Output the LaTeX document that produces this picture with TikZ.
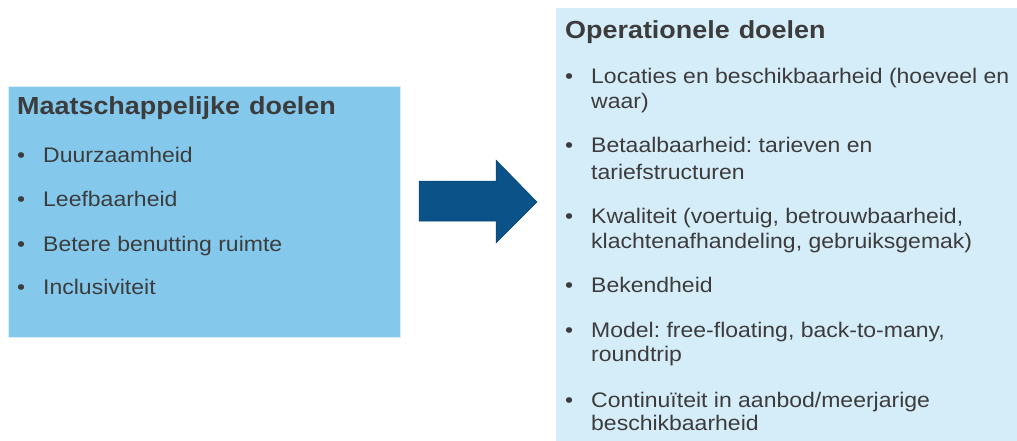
\documentclass[tikz,border=0pt]{standalone}
\usepackage{fontspec}
\setmainfont[FakeStretch=1.09]{Liberation Sans}
\frenchspacing
\definecolor{txt}{HTML}{3C3C3C}
\definecolor{lboxc}{HTML}{84C8EC}
\definecolor{rboxc}{HTML}{D5ECF9}
\definecolor{arrc}{HTML}{0B5289}
\tikzset{
  boxstyle/.style={inner sep=0pt, anchor=north west, draw=none},
  ttl/.style={anchor=base west, inner sep=0pt, text=txt, font=\bfseries\fontsize{24.7}{29}\selectfont},
  itm/.style={anchor=base west, inner sep=0pt, text=txt, font=\fontsize{21.1}{25}\selectfont},
  bul/.style={anchor=base west, inner sep=0pt, text=txt, font=\fontsize{21.1}{25}\selectfont}
}
\begin{document}
\begin{tikzpicture}[x=1pt,y=-1pt]
\useasboundingbox[fill=white] (0,0) rectangle (1017,441);
% boxes
\node[boxstyle, fill=lboxc, minimum width=392pt, minimum height=251pt, draw=white!70!lboxc, line width=0.8pt] (lbox) at (8,86) {};
\node[boxstyle, fill=rboxc, minimum width=461pt, minimum height=433pt] (rbox) at (556,8) {};
% arrow
\fill[arrc, draw=arrc!85!black, line width=0.5pt] (419,181) -- (496,181) -- (496,160) -- (537,202) -- (496,243) -- (496,221) -- (419,221) -- cycle;
% left content
\node[ttl] (lt) at (17,115) {Maatschappelijke\hspace{1.5pt} doelen};
\node[bul] (lb1) at (17,162) {•};
\node[itm] (l1) at (43,162) {Duurzaamheid};
\node[bul] (lb2) at (17,206) {•};
\node[itm] (l2) at (43,206) {Leefbaarheid};
\node[bul] (lb3) at (17,251) {•};
\node[itm] (l3) at (43,251) {Betere benutting ruimte};
\node[bul] (lb4) at (17,294) {•};
\node[itm] (l4) at (43,294) {Inclusiviteit};
% right content
\node[ttl] (rt) at (565,39) {Operationele\hspace{1.5pt} doelen};
\node[bul] (rb1) at (565,84) {•};
\node[itm] (r1a) at (591,84) {Locaties en beschikbaarheid (hoeveel en};
\node[itm] (r1b) at (591,109) {waar)};
\node[bul] (rb2) at (565,153) {•};
\node[itm] (r2a) at (591,153) {Betaalbaarheid: tarieven en};
\node[itm] (r2b) at (591,179) {tariefstructuren};
\node[bul] (rb3) at (565,223) {•};
\node[itm] (r3a) at (591,223) {Kwaliteit (voertuig, betrouwbaarheid,};
\node[itm] (r3b) at (591,248) {klachtenafhandeling, gebruiksgemak)};
\node[bul] (rb4) at (565,292) {•};
\node[itm] (r4) at (591,292) {Bekendheid};
\node[bul] (rb5) at (565,337) {•};
\node[itm] (r5a) at (591,337) {Model: free-floating, back-to-many,};
\node[itm] (r5b) at (591,361) {roundtrip};
\node[bul] (rb6) at (565,407) {•};
\node[itm] (r6a) at (591,407) {Continuïteit in aanbod/meerjarige};
\node[itm] (r6b) at (591,430) {beschikbaarheid};
\end{tikzpicture}
\end{document}
